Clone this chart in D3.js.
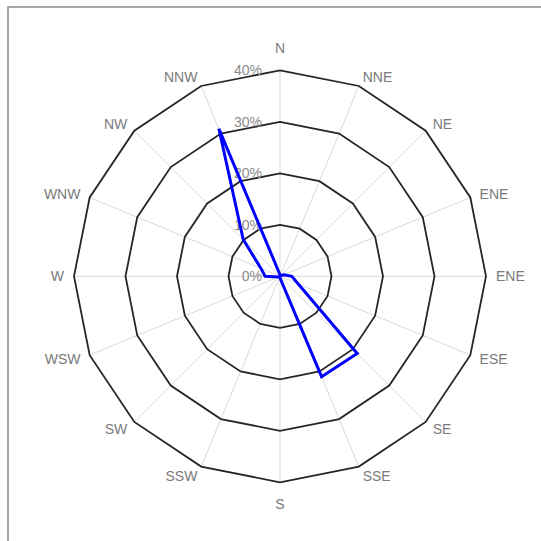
<!DOCTYPE html>
<html><head><meta charset="utf-8">
<script src="https://cdn.jsdelivr.net/npm/d3@7"></script>
<style>html,body{margin:0;padding:0;background:#fff;}svg{display:block;}</style>
</head><body>
<svg id="chart" width="541" height="541"></svg>
<script>
const directions = ["N","NNE","NE","ENE","ENE","ESE","SE","SSE","S","SSW","SW","WSW","W","WNW","NW","NNW"];
const values = [0.3, 0.2, 0.2, 0.8, 2.3, 3.8, 21.2, 21.1, 0.3, 0.2, 0.2, 0.3, 2.9, 4.0, 10.1, 31.0];
const tickValues = [0, 10, 20, 30, 40];
const tickLabels = ["0%", "10%", "20%", "30%", "40%"];

const svg = d3.select("#chart");
const cx = 280, cy = 276.3, R = 206;
const r = d3.scaleLinear().domain([0, 40]).range([0, R]);
const angle = d3.scaleLinear().domain([0, directions.length]).range([0, 2 * Math.PI]);

// outer frame
svg.append("rect").attr("x", 8).attr("y", 7).attr("width", 700).attr("height", 700)
  .attr("fill", "none").attr("stroke", "#8a8a8a").attr("stroke-width", 1.5);

const g = svg.append("g").attr("transform", `translate(${cx},${cy})`);
const pt = (i, v) => [r(v) * Math.sin(angle(i)), -r(v) * Math.cos(angle(i))];

// spokes
g.selectAll("line.spoke").data(directions).join("line")
  .attr("x1", 0).attr("y1", 0)
  .attr("x2", (d, i) => pt(i, 40)[0]).attr("y2", (d, i) => pt(i, 40)[1])
  .attr("stroke", "#d9d9d9").attr("stroke-width", 1);

// rings
const ring = d3.line().curve(d3.curveLinearClosed);
g.selectAll("path.ring").data(tickValues.filter(t => t > 0)).join("path")
  .attr("d", t => ring(directions.map((d, i) => pt(i, t))))
  .attr("fill", "none").attr("stroke", "#262626").attr("stroke-width", 1.8);

// tick labels
g.selectAll("text.tick").data(tickValues).join("text")
  .attr("x", -18).attr("y", t => -r(t))
  .attr("text-anchor", "end").attr("dominant-baseline", "central")
  .attr("font-family", "Liberation Sans, Arial, sans-serif").attr("font-size", 14)
  .attr("fill", "#8a8a8a").text((t, i) => tickLabels[i]);

// data
g.append("path")
  .attr("d", ring(values.map((v, i) => pt(i, v))))
  .attr("fill", "none").attr("stroke", "#0000ff").attr("stroke-width", 3)
  .attr("stroke-linejoin", "miter");

// direction labels
g.selectAll("text.dir").data(directions).join("text")
  .attr("x", (d, i) => (R + 10) * Math.sin(angle(i)))
  .attr("y", (d, i) => {
    const c = -Math.cos(angle(i));
    const base = (R + 10) * c;
    return Math.abs(Math.sin(angle(i))) < 0.01 ? base + 12 * Math.sign(c) : base;
  })
  .attr("text-anchor", (d, i) => {
    const s = Math.sin(angle(i));
    return Math.abs(s) < 0.01 ? "middle" : (s > 0 ? "start" : "end");
  })
  .attr("dominant-baseline", "central")
  .attr("font-family", "Liberation Sans, Arial, sans-serif").attr("font-size", 14)
  .attr("fill", "#7a7a7a").text(d => d);
</script>
</body></html>
